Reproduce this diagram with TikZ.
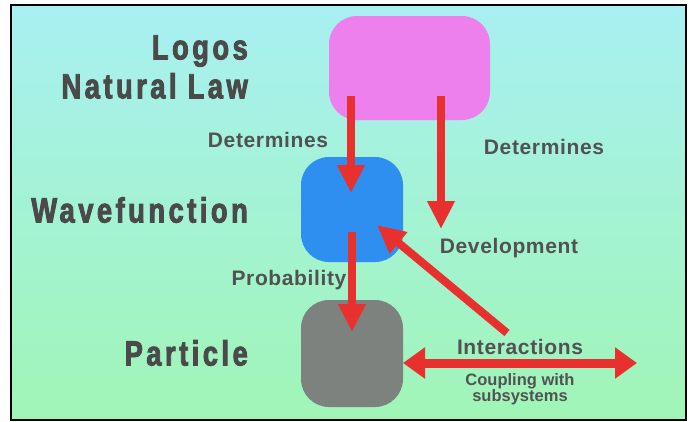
\documentclass[tikz,border=0pt]{standalone}
\usepackage{fontspec}
\setmainfont{Liberation Sans}
\newfontfamily\headfont[FakeStretch=0.78,LetterSpace=10,FakeBold=2.5]{Liberation Sans}
\newfontfamily\labelfont[LetterSpace=3]{Liberation Sans}
\usepackage{xcolor}
\usetikzlibrary{arrows.meta, positioning}

\definecolor{bgtop}{RGB}{168,240,242}
\definecolor{bgbot}{RGB}{160,245,182}
\definecolor{logoscol}{RGB}{238,128,238}
\definecolor{wavecol}{RGB}{46,143,240}
\definecolor{partcol}{RGB}{126,130,127}
\definecolor{arrowred}{RGB}{232,48,46}
\definecolor{headgray}{RGB}{74,74,74}
\definecolor{lblgray}{RGB}{82,82,82}

\begin{document}
\begin{tikzpicture}[
    x=1pt, y=-1pt,
    box/.style={rectangle, rounded corners=28pt, draw=none, inner sep=0pt},
    heading/.style={font=\headfont\bfseries\fontsize{35}{39}\selectfont, text=headgray, align=right, anchor=east, inner sep=0pt},
    lbl/.style={font=\labelfont\bfseries\fontsize{21}{24}\selectfont, text=lblgray, anchor=base, inner sep=0pt},
    arrow/.style={-{Triangle[width=26pt,length=28pt]}, line width=8pt, draw=arrowred},
    twoway/.style={{Triangle[width=30pt,length=22pt]}-{Triangle[width=30pt,length=22pt]}, line width=9pt, draw=arrowred},
]
\useasboundingbox (0,0) rectangle (689,421);

% background and frame
\shade[top color=bgtop, bottom color=bgbot] (11,5) rectangle (686,420);
\draw[line width=2.5pt] (11,5) rectangle (686,420);

% boxes
\node[box, fill=logoscol, minimum width=161pt, minimum height=104pt] (logos) at (409.5,68) {};
\node[box, fill=wavecol, minimum width=102pt, minimum height=105pt] (wave) at (352,209.5) {};
\node[box, fill=partcol, minimum width=102pt, minimum height=107pt] (particle) at (352,353.5) {};

% headings
\node[heading] (logostxt) at (248,67) {Logos\\Natural Law};
\node[heading] (wavetxt) at (248,210) {Wavefunction};
\node[heading] (parttxt) at (248,353) {Particle};

% arrow ends
\coordinate (detA) at (351,96);
\coordinate (detAtip) at (351,193);
\coordinate (detB) at (441,96);
\coordinate (detBtip) at (441,229);
\coordinate (prob) at (352,232);
\coordinate (probtip) at (352,332);
\coordinate (inter) at (507,333);
\coordinate (intertip) at (377,225);
\coordinate (coupL) at (403,363);
\coordinate (coupR) at (637,363);

\draw[arrow] (detA) -- (detAtip);
\draw[arrow] (detB) -- (detBtip);
\draw[arrow] (prob) -- (probtip);
\draw[arrow] (inter) -- (intertip);
\draw[twoway] (coupL) -- (coupR);

% labels
\node[lbl] (det1) at (268,147) {Determines};
\node[lbl] (det2) at (544,154) {Determines};
\node[lbl] (devel) at (509,253) {Development};
\node[lbl] (probl) at (289,285) {Probability};
\node[lbl] (interl) at (520,354) {Interactions};
\node[font=\bfseries\fontsize{16.5}{13.5}\selectfont, text=lblgray, align=center, anchor=north, inner sep=0pt] (coupl) at (520,373) {Coupling with\\subsystems};

\end{tikzpicture}
\end{document}
